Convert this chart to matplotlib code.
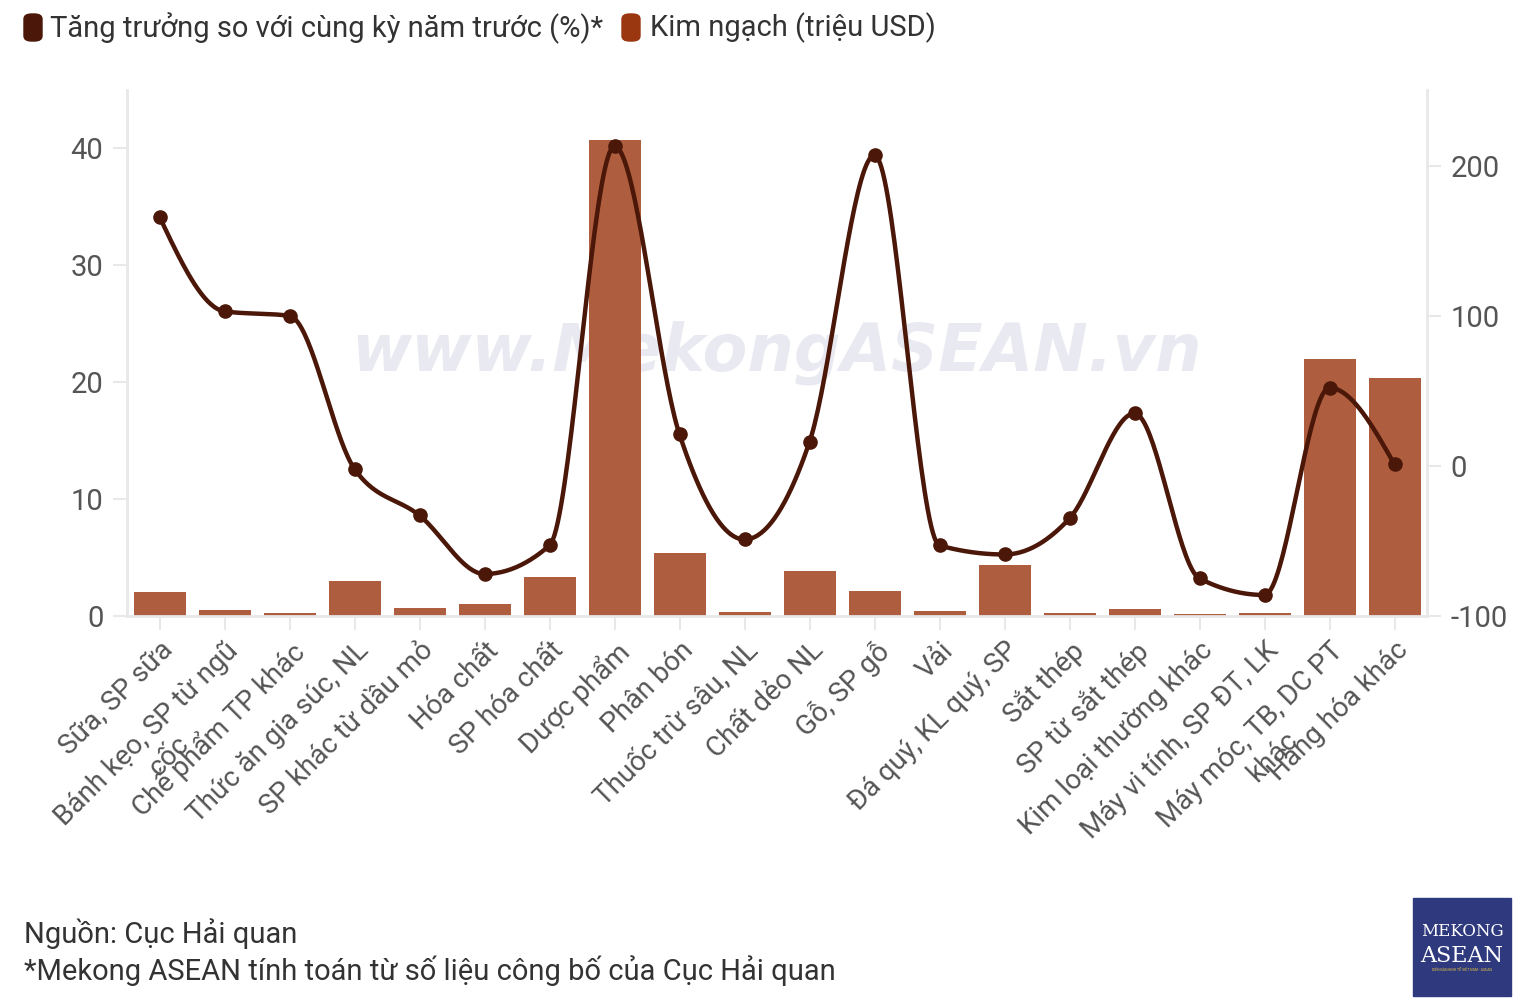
import numpy as np
import matplotlib
matplotlib.use("Agg")
import matplotlib.pyplot as plt
from matplotlib.patches import FancyBboxPatch, Rectangle

plt.rcParams['font.family'] = ['Roboto', 'DejaVu Sans']
plt.rcParams['axes.unicode_minus'] = False

# du lieu
categories = ["Sữa, SP sữa", "Bánh kẹo, SP từ ngũ\ncốc", "Chế phẩm TP khác",
              "Thức ăn gia súc, NL", "SP khác từ dầu mỏ", "Hóa chất", "SP hóa chất",
              "Dược phẩm", "Phân bón", "Thuốc trừ sâu, NL", "Chất dẻo NL", "Gỗ, SP gỗ",
              "Vải", "Đá quý, KL quý, SP", "Sắt thép", "SP từ sắt thép",
              "Kim loại thường khác", "Máy vi tính, SP ĐT, LK", "Máy móc, TB, DC PT\nkhác",
              "Hàng hóa khác"]
kim_ngach = [2.05, 0.5, 0.26, 3.0, 0.68, 1.03, 3.33, 40.7, 5.4, 0.34, 3.85, 2.14,
             0.43, 4.36, 0.26, 0.6, 0.17, 0.26, 22.0, 20.4]
tang_truong = [166, 103, 100, -2, -33, -72, -53, 213, 21, -49, 16, 207,
               -53, -59, -35, 35, -75, -86, 52, 1]

bar_color = "#ae5e3f"
line_color = "#4a1708"
grid_c = "#e8e8e8"
txt_c = "#555555"

fig = plt.figure(figsize=(15.26, 10.06), dpi=100)
ax = fig.add_axes([127/1526, 1-616/1006, 1300/1526, 526/1006])
ax2 = ax.twinx()

x = np.arange(len(categories))
ax.bar(x, kim_ngach, width=0.8, color=bar_color, zorder=2)
ax.set_xlim(-0.5, len(categories) - 0.5)
ax.set_ylim(0, 45)
ax.set_yticks([0, 10, 20, 30, 40])

# watermark
ax.text(0.5, 0.5, "www.MekongASEAN.vn", transform=ax.transAxes, ha="center", va="center",
        fontsize=47, fontweight="bold", style="italic", color="#e9e9f1", zorder=0,
        family="DejaVu Sans")

# duong cong monotone (kieu d3 monotoneX)
yv = np.array(tang_truong, dtype=float)
n = len(yv)
sl = np.diff(yv)
tg = np.zeros(n)
for i in range(1, n - 1):
    s0, s1 = sl[i - 1], sl[i]
    p = (s0 + s1) / 2
    tg[i] = (np.sign(s0) + np.sign(s1)) * min(abs(s0), abs(s1), 0.5 * abs(p))
tg[0] = (3 * sl[0] - tg[1]) / 2
tg[-1] = (3 * sl[-1] - tg[-2]) / 2
xs, ys = [], []
t = np.linspace(0, 1, 40)
for i in range(n - 1):
    p0, p3 = yv[i], yv[i + 1]
    p1, p2 = p0 + tg[i] / 3, p3 - tg[i + 1] / 3
    xs.extend(i + t)
    ys.extend((1-t)**3*p0 + 3*(1-t)**2*t*p1 + 3*(1-t)*t**2*p2 + t**3*p3)
ax2.plot(xs, ys, color=line_color, lw=3.2, zorder=3, solid_capstyle="round")
ax2.plot(x, yv, "o", color=line_color, ms=9.5, zorder=4)
ax2.set_ylim(-100, 250.5)
ax2.set_yticks([-100, 0, 100, 200])

for a in (ax, ax2):
    for s in a.spines.values():
        s.set_visible(False)
    a.tick_params(axis="y", length=10, width=1.5, color=grid_c, labelsize=21,
                  labelcolor=txt_c, pad=7)
ax.spines["left"].set_visible(True)
ax.spines["left"].set_color(grid_c)
ax.spines["left"].set_linewidth(2)
ax.spines["bottom"].set_visible(True)
ax.spines["bottom"].set_color(grid_c)
ax.spines["bottom"].set_linewidth(2)
ax2.spines["right"].set_visible(True)
ax2.spines["right"].set_color(grid_c)
ax2.spines["right"].set_linewidth(2)

ax.set_xticks(x)
ax.set_xticklabels(categories, rotation=45, ha="right", rotation_mode="anchor",
                   fontsize=20, color=txt_c, multialignment="center")
ax.tick_params(axis="x", length=10, width=1.5, color=grid_c, pad=5)

# chu thich
fig.patches.append(FancyBboxPatch((24/1526, 1-41/1006), 18/1526, 27/1006,
                                  boxstyle="round,pad=0,rounding_size=0.005",
                                  transform=fig.transFigure, color="#4a1708"))
fig.text(50/1526, 1-28/1006, "Tăng trưởng so với cùng kỳ năm trước (%)*", fontsize=21,
         color="#333333", va="center")
fig.patches.append(FancyBboxPatch((622/1526, 1-41/1006), 18/1526, 27/1006,
                                  boxstyle="round,pad=0,rounding_size=0.005",
                                  transform=fig.transFigure, color="#9a3610"))
fig.text(650/1526, 1-28/1006, "Kim ngạch (triệu USD)", fontsize=21,
         color="#333333", va="center")

# nguon
fig.text(24/1526, 1-934/1006, "Nguồn: Cục Hải quan", fontsize=21, color="#333333", va="center")
fig.text(24/1526, 1-971/1006, "*Mekong ASEAN tính toán từ số liệu công bố của Cục Hải quan",
         fontsize=21, color="#333333", va="center")

# logo
fig.patches.append(Rectangle((1413/1526, 1-996/1006), 98/1526, 98/1006,
                             transform=fig.transFigure, color="#2f3a7e"))
fig.text(1462/1526, 1-932/1006, "MEKONG", fontsize=12, color="white", ha="center",
         va="center", family="DejaVu Serif")
fig.text(1462/1526, 1-956/1006, "ASEAN", fontsize=16, color="white", ha="center",
         va="center", family="DejaVu Serif")
fig.text(1462/1526, 1-970/1006, "DIỄN ĐÀN KINH TẾ VIỆT NAM - ASEAN", fontsize=2.5,
         color="#e8c440", ha="center", va="center")

fig.savefig("out.png", dpi=100)
